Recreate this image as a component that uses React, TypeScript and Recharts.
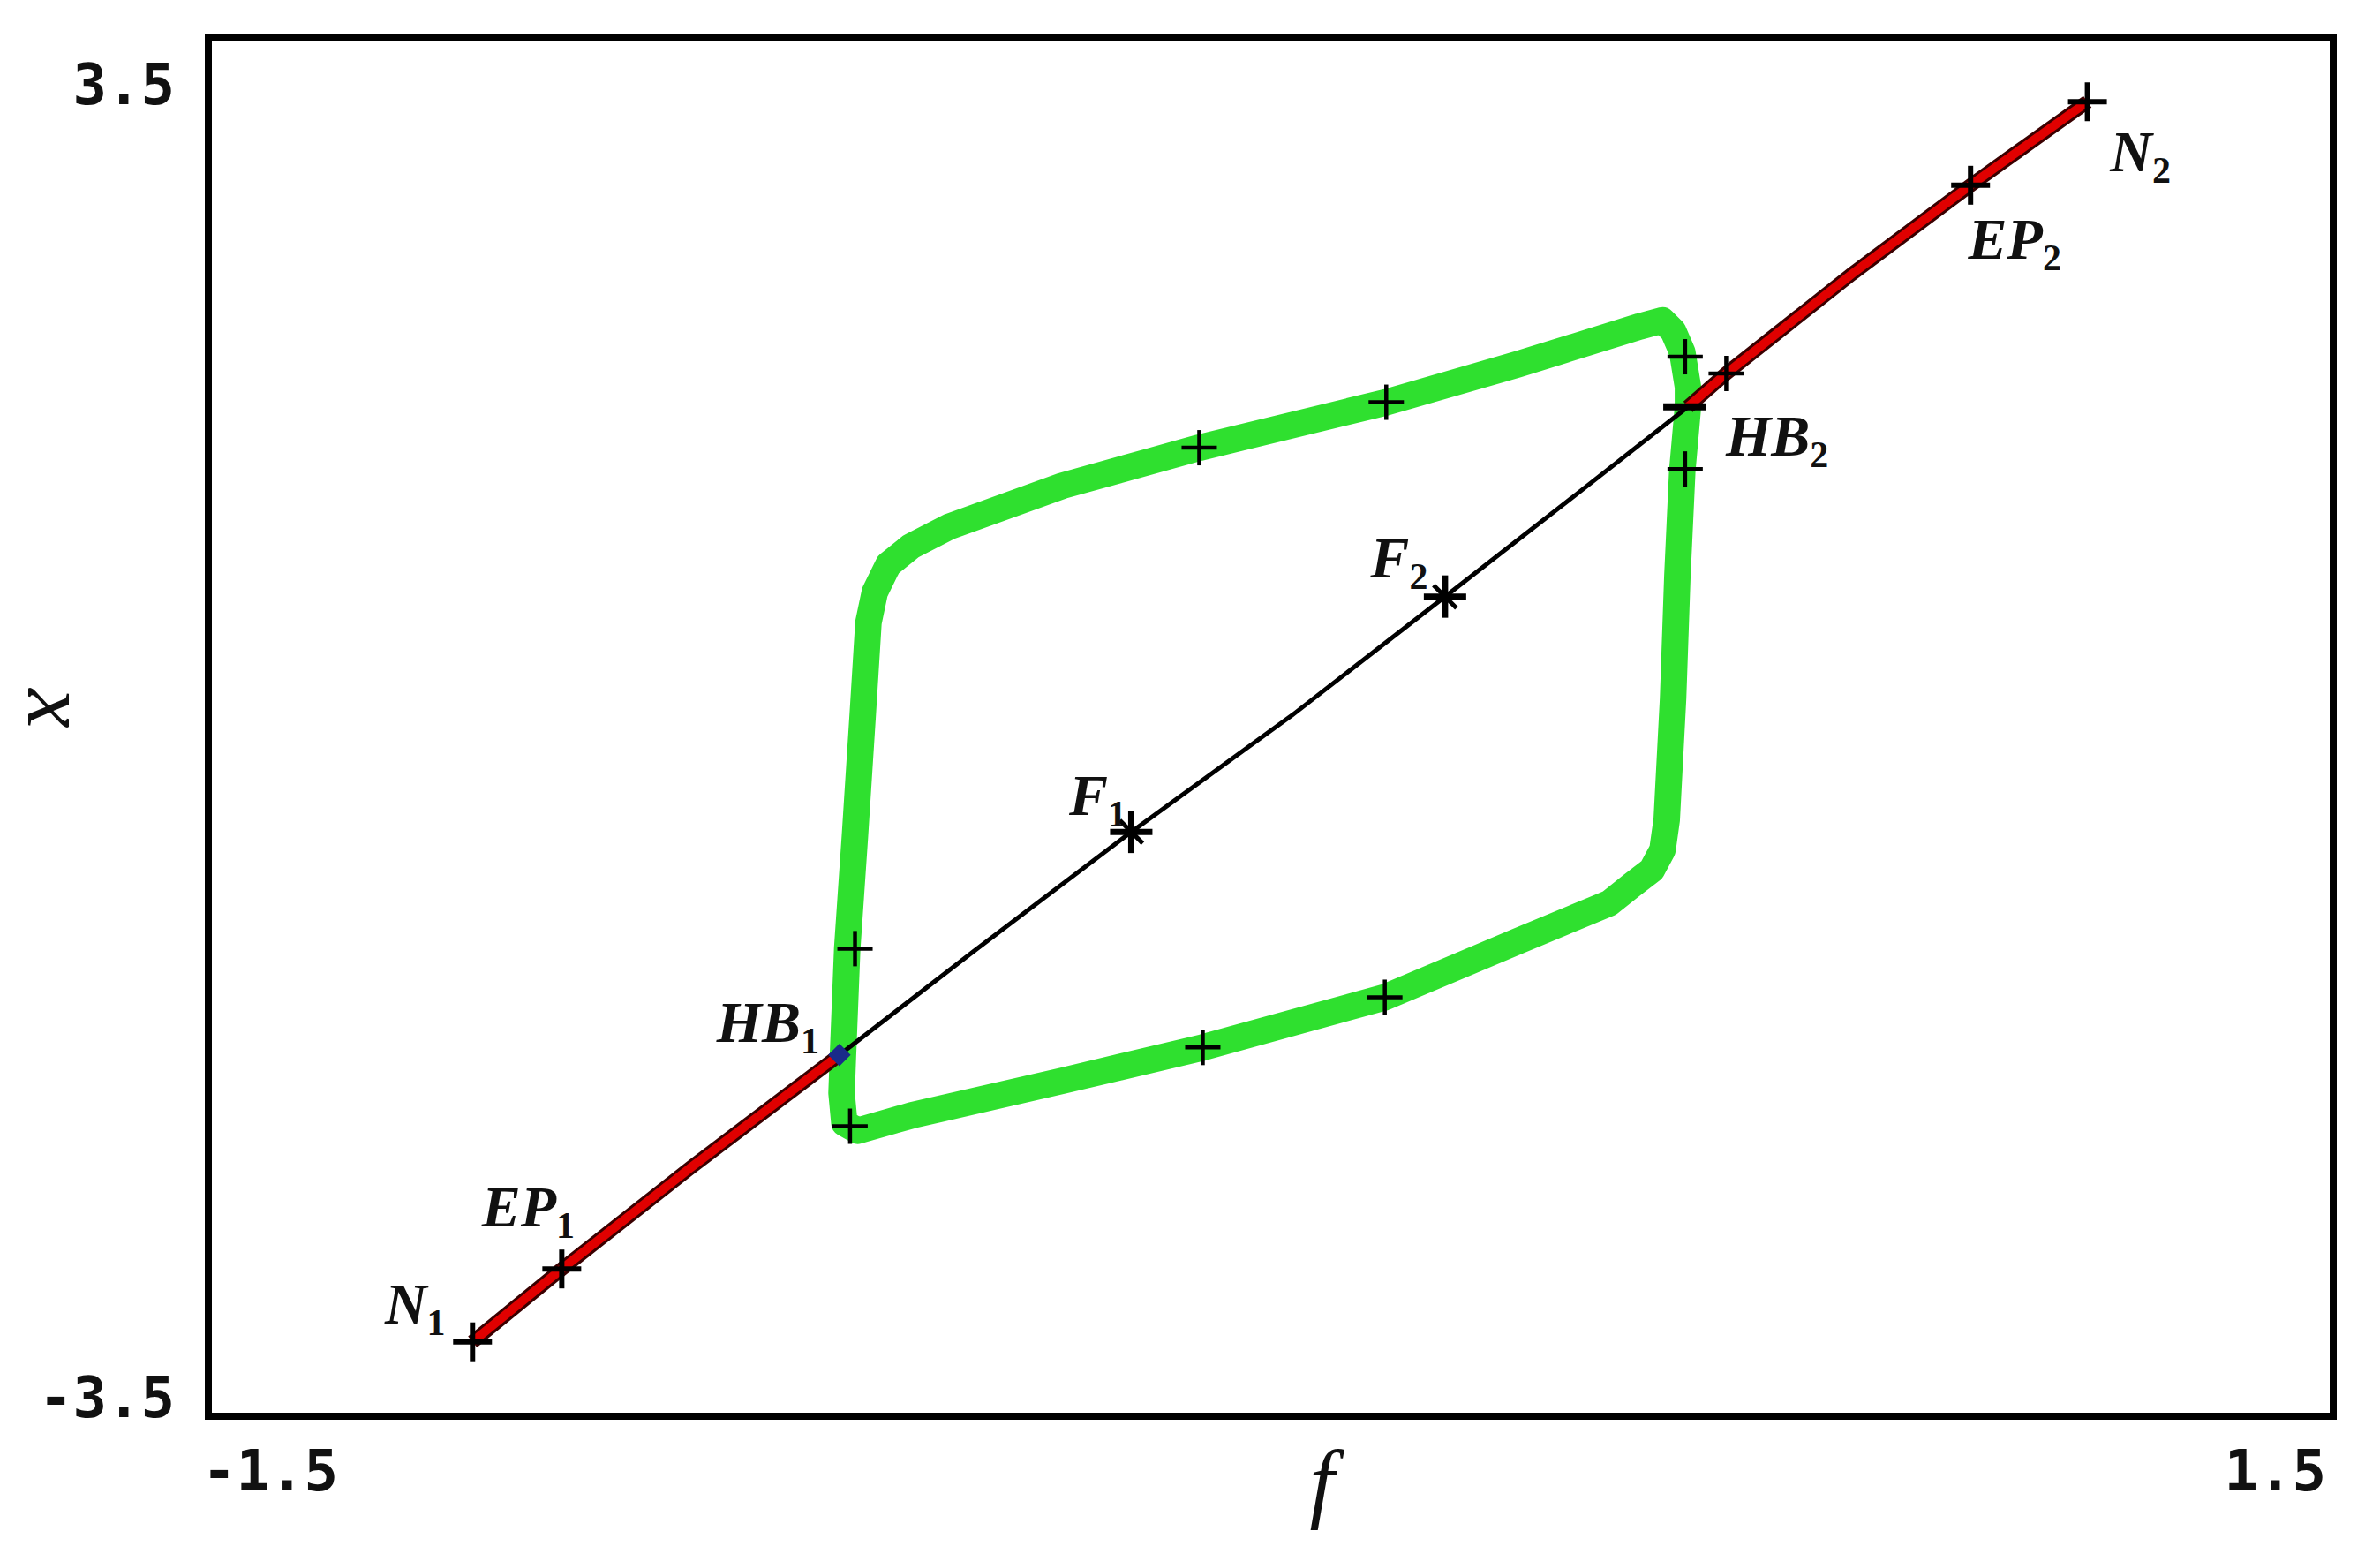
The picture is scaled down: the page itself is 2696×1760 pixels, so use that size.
import { ComposedChart, Scatter, XAxis, YAxis, ReferenceArea, Label } from "recharts";

// equilibrium branch, stable lower part (N1 -> EP1 -> HB1)
const stableLow = [
  { f: -1.127, x: -3.122 },
  { f: -1.001, x: -2.752 },
  { f: -0.82, x: -2.24 },
  { f: -0.609, x: -1.665 },
];

// unstable part between the two Hopf points
const unstableMid = [
  { f: -0.609, x: -1.665 },
  { f: -0.42, x: -1.14 },
  { f: -0.197, x: -0.532 },
  { f: 0.03, x: 0.06 },
  { f: 0.246, x: 0.663 },
  { f: 0.42, x: 1.15 },
  { f: 0.589, x: 1.627 },
];

// stable upper part (HB2 -> EP2 -> N2)
const stableHigh = [
  { f: 0.589, x: 1.627 },
  { f: 0.643, x: 1.796 },
  { f: 0.82, x: 2.3 },
  { f: 0.988, x: 2.752 },
  { f: 1.153, x: 3.176 },
];

// periodic orbit branch: max from HB1 to HB2, then min back to HB1
const cycleLoop = [
  { f: -0.604, x: -1.665 },
  { f: -0.598, x: -1.125 },
  { f: -0.587, x: -0.547 },
  { f: -0.576, x: 0.069 },
  { f: -0.568, x: 0.532 },
  { f: -0.559, x: 0.686 },
  { f: -0.54, x: 0.825 },
  { f: -0.508, x: 0.918 },
  { f: -0.454, x: 1.018 },
  { f: -0.294, x: 1.226 },
  { f: -0.101, x: 1.419 },
  { f: 0.163, x: 1.65 },
  { f: 0.349, x: 1.843 },
  { f: 0.521, x: 2.035 },
  { f: 0.553, x: 2.066 },
  { f: 0.568, x: 2.012 },
  { f: 0.581, x: 1.904 },
  { f: 0.589, x: 1.727 },
  { f: 0.589, x: 1.627 },
  { f: 0.581, x: 1.303 },
  { f: 0.574, x: 0.763 },
  { f: 0.568, x: 0.147 },
  { f: 0.559, x: -0.47 },
  { f: 0.553, x: -0.624 },
  { f: 0.538, x: -0.725 },
  { f: 0.51, x: -0.802 },
  { f: 0.478, x: -0.894 },
  { f: 0.349, x: -1.087 },
  { f: 0.161, x: -1.372 },
  { f: -0.096, x: -1.627 },
  { f: -0.294, x: -1.796 },
  { f: -0.508, x: -1.973 },
  { f: -0.583, x: -2.05 },
  { f: -0.602, x: -2.012 },
  { f: -0.606, x: -1.858 },
  { f: -0.604, x: -1.665 },
];

// small crosses sitting on the orbit branch and on the upper stable branch
const cycleMarks = [
  { f: -0.587, x: -1.125 },
  { f: -0.594, x: -2.027 },
  { f: -0.101, x: 1.419 },
  { f: 0.163, x: 1.65 },
  { f: -0.096, x: -1.627 },
  { f: 0.161, x: -1.372 },
  { f: 0.585, x: 1.881 },
  { f: 0.585, x: 1.311 },
  { f: 0.643, x: 1.796 },
];

// labelled special points
const specialPoints = [
  { f: -1.127, x: -3.122, name: "N", sub: "1" },
  { f: -1.001, x: -2.752, name: "EP", sub: "1" },
  { f: -0.609, x: -1.665, name: "HB", sub: "1" },
  { f: -0.197, x: -0.532, name: "F", sub: "1" },
  { f: 0.246, x: 0.663, name: "F", sub: "2" },
  { f: 0.589, x: 1.627, name: "HB", sub: "2" },
  { f: 0.988, x: 2.752, name: "EP", sub: "2" },
  { f: 1.153, x: 3.176, name: "N", sub: "2" },
];

const fTicks = [-1.5, 1.5];
const xTicks = [-3.5, 3.5];

const LABEL_POS: Record<string, { dx: number; dy: number; mark: string }> = {
  N1: { dx: -65, dy: -21, mark: "plus" },
  EP1: { dx: -38, dy: -48, mark: "plus" },
  HB1: { dx: -81, dy: -15, mark: "diamond" },
  F1: { dx: -38, dy: -19, mark: "star" },
  F2: { dx: -52, dy: -22, mark: "star" },
  HB2: { dx: 101, dy: 55, mark: "bar" },
  EP2: { dx: 50, dy: 83, mark: "plus" },
  N2: { dx: 60, dy: 79, mark: "plus" },
};

const labelFont = "'Liberation Serif', 'DejaVu Serif', serif";
const tickFont = "'DejaVu Sans Mono', monospace";

const Nothing = () => <g />;

const Plus = ({ cx, cy, size = 20, w = 5 }: any) => (
  <g stroke="#000" strokeWidth={w}>
    <line x1={cx - size} y1={cy} x2={cx + size} y2={cy} />
    <line x1={cx} y1={cy - size} x2={cx} y2={cy + size} />
  </g>
);

const SmallCross = (props: any) => <Plus cx={props.cx} cy={props.cy} size={20} w={4.5} />;

const SpecialShape = (props: any) => {
  const { cx, cy, payload } = props;
  const key = payload.name + payload.sub;
  const s = LABEL_POS[key];
  let mark = null;
  if (s.mark === "plus") mark = <Plus cx={cx} cy={cy} size={22} w={6} />;
  if (s.mark === "star")
    mark = (
      <g>
        <Plus cx={cx} cy={cy} size={24} w={7} />
        <g stroke="#000" strokeWidth={5}>
          <line x1={cx - 13} y1={cy - 13} x2={cx + 13} y2={cy + 13} />
        </g>
      </g>
    );
  if (s.mark === "diamond")
    mark = (
      <g fill="#1a2a8a">
        <rect x={cx - 9} y={cy - 9} width={18} height={18} transform={`rotate(45 ${cx} ${cy})`} />
      </g>
    );
  if (s.mark === "bar") mark = <line x1={cx - 28} y1={cy} x2={cx + 20} y2={cy} stroke="#000" strokeWidth={8} />;
  return (
    <g>
      {mark}
      <text
        x={cx + s.dx}
        y={cy + s.dy}
        textAnchor="middle"
        fontFamily={labelFont}
        fontStyle="italic"
        fontWeight="bold"
        fontSize={66}
        fill="#111"
      >
        {payload.name}
        <tspan fontSize={42} fontStyle="normal" dy={13}>
          {payload.sub}
        </tspan>
      </text>
    </g>
  );
};

const FTick = (props: any) => {
  const { x, y, payload } = props;
  const first = payload.value === fTicks[0];
  return (
    <text
      x={first ? x - 7 : x - 8}
      y={y + 84}
      textAnchor={first ? "start" : "end"}
      fontFamily={tickFont}
      fontWeight="bold"
      fontSize={64}
      fill="#111"
    >
      {payload.value.toFixed(1)}
    </text>
  );
};

const XTick = (props: any) => {
  const { x, y, payload } = props;
  const top = payload.value === xTicks[1];
  return (
    <text
      x={x - 38}
      y={top ? y + 75 : y + 1}
      textAnchor="end"
      fontFamily={tickFont}
      fontWeight="bold"
      fontSize={64}
      fill="#111"
    >
      {payload.value.toFixed(1)}
    </text>
  );
};

const App = () => {
  return (
    <div style={{ position: "absolute", left: 0, top: 0, background: "#fff" }}>
      <ComposedChart width={2696} height={1760} margin={{ top: 43, right: 53, bottom: 0, left: 0 }}>
        <XAxis
          type="number"
          dataKey="f"
          domain={[-1.5, 1.5]}
          ticks={fTicks}
          tick={<FTick />}
          tickSize={0}
          tickMargin={0}
          tickLine={false}
          axisLine={false}
          height={156}
          allowDataOverflow
        >
          <Label
            content={(p: any) => (
              <text
                x={p.viewBox.x + p.viewBox.width / 2 + 58}
                y={p.viewBox.y + 108}
                textAnchor="middle"
                fontFamily={labelFont}
                fontStyle="italic"
                fontSize={100}
                fill="#111"
              >
                f
              </text>
            )}
          />
        </XAxis>
        <YAxis
          type="number"
          dataKey="x"
          domain={[-3.5, 3.5]}
          ticks={xTicks}
          tick={<XTick />}
          tickSize={0}
          tickMargin={0}
          tickLine={false}
          axisLine={false}
          width={236}
          allowDataOverflow
        >
          <Label
            content={(p: any) => {
              const cx = 32;
              const cy = p.viewBox.y + p.viewBox.height / 2 - 21;
              return (
                <text
                  x={cx}
                  y={cy}
                  textAnchor="middle"
                  transform={`rotate(90 ${cx} ${cy})`}
                  fontFamily={labelFont}
                  fontStyle="italic"
                  fontSize={100}
                  fill="#111"
                >
                  x
                </text>
              );
            }}
          />
        </YAxis>

        <Scatter
          data={cycleLoop}
          line={{ stroke: "#2fe02f", strokeWidth: 30, strokeLinejoin: "round", strokeLinecap: "round" }}
          lineJointType="linear"
          shape={<Nothing />}
          isAnimationActive={false}
        />
        <Scatter
          data={unstableMid}
          line={{ stroke: "#000", strokeWidth: 5 }}
          lineJointType="linear"
          shape={<Nothing />}
          isAnimationActive={false}
        />
        <Scatter
          data={stableLow}
          line={{ stroke: "#3a0000", strokeWidth: 16 }}
          lineJointType="linear"
          shape={<Nothing />}
          isAnimationActive={false}
        />
        <Scatter
          data={stableLow}
          line={{ stroke: "#e00000", strokeWidth: 10 }}
          lineJointType="linear"
          shape={<Nothing />}
          isAnimationActive={false}
        />
        <Scatter
          data={stableHigh}
          line={{ stroke: "#3a0000", strokeWidth: 16 }}
          lineJointType="linear"
          shape={<Nothing />}
          isAnimationActive={false}
        />
        <Scatter
          data={stableHigh}
          line={{ stroke: "#e00000", strokeWidth: 10 }}
          lineJointType="linear"
          shape={<Nothing />}
          isAnimationActive={false}
        />
        <Scatter data={cycleMarks} shape={<SmallCross />} isAnimationActive={false} />
        <Scatter data={specialPoints} shape={<SpecialShape />} isAnimationActive={false} />

        <ReferenceArea
          x1={-1.5}
          x2={1.5}
          y1={-3.5}
          y2={3.5}
          fill="none"
          fillOpacity={0}
          stroke="#000"
          strokeWidth={8}
          ifOverflow="visible"
        />
      </ComposedChart>
    </div>
  );
};

export default App;
